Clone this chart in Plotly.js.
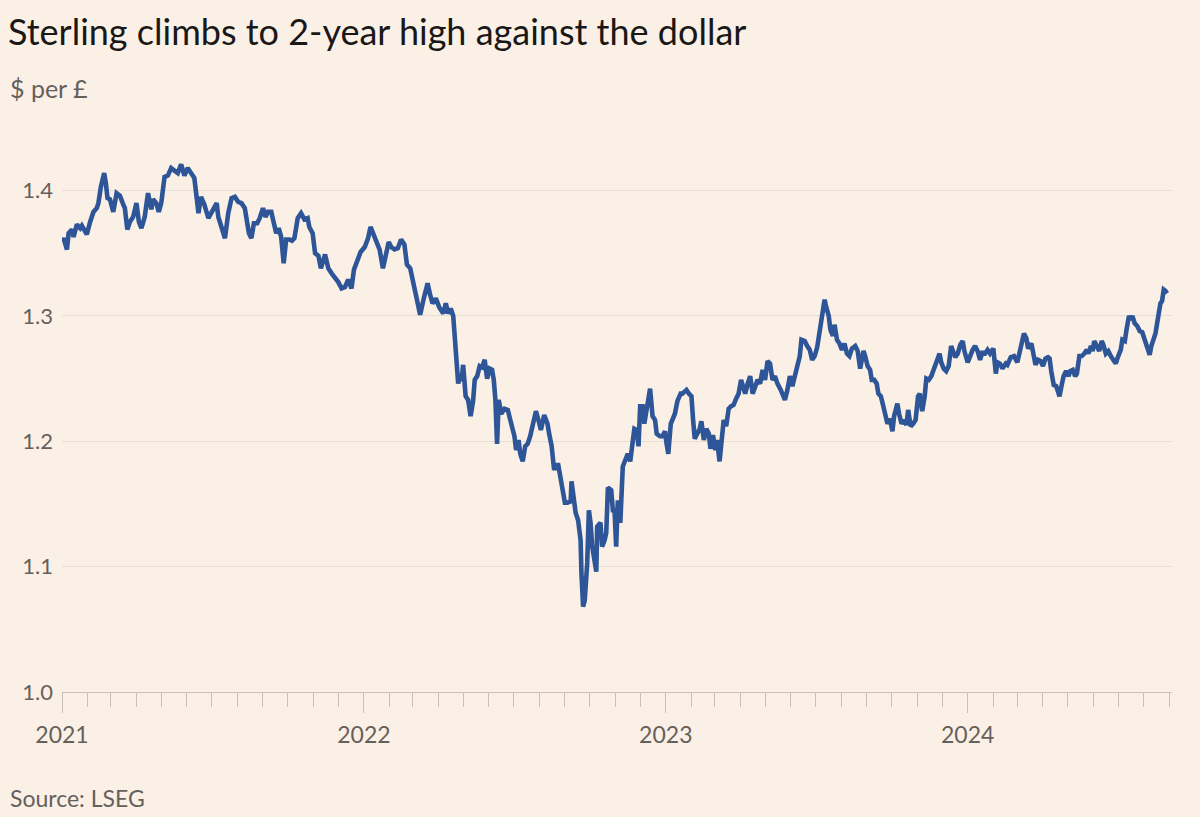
<!DOCTYPE html>
<html>
<head>
<meta charset="utf-8">
<script src="https://cdn.plot.ly/plotly-3.0.1.min.js"></script>
<style>
  html, body { margin: 0; padding: 0; background: #fbf0e6; }
  #chart { width: 1200px; height: 817px; }
</style>
</head>
<body>
<div id="chart"></div>
<script>
// ---- Data: GBP/USD ($ per £) ----
const dates2021 = ["2021-01-01","2021-01-03","2021-01-07","2021-01-09","2021-01-13","2021-01-15","2021-01-19","2021-01-23","2021-01-25","2021-01-29","2021-01-31","2021-02-04","2021-02-08","2021-02-12","2021-02-14","2021-02-17","2021-02-21","2021-02-23","2021-02-25","2021-02-28","2021-03-04","2021-03-08","2021-03-12","2021-03-16","2021-03-18","2021-03-21","2021-03-24","2021-03-28","2021-04-01","2021-04-04","2021-04-07","2021-04-11","2021-04-15","2021-04-19","2021-04-21","2021-04-25","2021-04-28","2021-05-01","2021-05-05","2021-05-09","2021-05-13","2021-05-17","2021-05-21","2021-05-25","2021-05-29","2021-06-02","2021-06-06","2021-06-10","2021-06-12","2021-06-15","2021-06-18","2021-06-22","2021-06-27","2021-07-01","2021-07-07","2021-07-09","2021-07-13","2021-07-17","2021-07-21","2021-07-25","2021-07-29","2021-08-02","2021-08-06","2021-08-10","2021-08-15","2021-08-18","2021-08-21","2021-08-25","2021-08-28","2021-09-01","2021-09-04","2021-09-07","2021-09-11","2021-09-14","2021-09-17","2021-09-20","2021-09-23","2021-09-26","2021-09-29","2021-10-03","2021-10-06","2021-10-09","2021-10-13","2021-10-17","2021-10-21","2021-10-25","2021-10-27","2021-10-31","2021-11-03","2021-11-07","2021-11-10","2021-11-15","2021-11-19","2021-11-23","2021-11-27","2021-12-01","2021-12-05","2021-12-09","2021-12-13","2021-12-17","2021-12-20","2021-12-24","2021-12-28"];
const values2021 = [1.359,1.362,1.353,1.366,1.369,1.363,1.373,1.370,1.372,1.366,1.365,1.375,1.383,1.386,1.390,1.403,1.414,1.406,1.394,1.393,1.383,1.398,1.396,1.389,1.386,1.369,1.375,1.379,1.390,1.375,1.370,1.379,1.398,1.385,1.393,1.390,1.383,1.390,1.411,1.412,1.418,1.416,1.414,1.421,1.412,1.418,1.414,1.410,1.399,1.382,1.395,1.389,1.378,1.383,1.390,1.379,1.369,1.362,1.382,1.394,1.395,1.391,1.390,1.386,1.366,1.362,1.374,1.374,1.378,1.386,1.379,1.383,1.383,1.375,1.366,1.370,1.363,1.342,1.361,1.361,1.360,1.362,1.378,1.382,1.377,1.378,1.371,1.366,1.350,1.348,1.338,1.349,1.338,1.334,1.331,1.327,1.322,1.323,1.329,1.322,1.337,1.343,1.351];

const dates2022 = ["2022-01-02","2022-01-06","2022-01-09","2022-01-12","2022-01-16","2022-01-20","2022-01-24","2022-01-28","2022-01-31","2022-02-03","2022-02-07","2022-02-11","2022-02-15","2022-02-19","2022-02-22","2022-02-26","2022-03-01","2022-03-04","2022-03-07","2022-03-10","2022-03-14","2022-03-19","2022-03-22","2022-03-25","2022-03-29","2022-04-02","2022-04-07","2022-04-10","2022-04-13","2022-04-16","2022-04-19","2022-04-21","2022-04-23","2022-04-25","2022-04-27","2022-04-29","2022-05-01","2022-05-04","2022-05-07","2022-05-10","2022-05-13","2022-05-15","2022-05-18","2022-05-21","2022-05-24","2022-05-27","2022-05-30","2022-06-02","2022-06-05","2022-06-07","2022-06-09","2022-06-11","2022-06-13","2022-06-16","2022-06-20","2022-06-24","2022-06-27","2022-06-30","2022-07-02","2022-07-04","2022-07-07","2022-07-09","2022-07-12","2022-07-15","2022-07-18","2022-07-21","2022-07-24","2022-07-28","2022-07-31","2022-08-03","2022-08-07","2022-08-11","2022-08-13","2022-08-16","2022-08-19","2022-08-21","2022-08-24","2022-08-27","2022-08-29","2022-09-01","2022-09-04","2022-09-08","2022-09-09","2022-09-12","2022-09-14","2022-09-17","2022-09-20","2022-09-21","2022-09-23","2022-09-25","2022-09-28","2022-09-30","2022-10-02","2022-10-04","2022-10-06","2022-10-09","2022-10-10","2022-10-14","2022-10-16","2022-10-19","2022-10-21","2022-10-23","2022-10-27","2022-10-29","2022-10-31","2022-11-02","2022-11-04","2022-11-07","2022-11-10","2022-11-13","2022-11-16","2022-11-19","2022-11-21","2022-11-24","2022-11-27","2022-11-29","2022-12-01","2022-12-04","2022-12-06","2022-12-09","2022-12-11","2022-12-13","2022-12-16","2022-12-19","2022-12-21","2022-12-25","2022-12-28","2022-12-31"];
const values2022 = [1.355,1.362,1.371,1.366,1.359,1.353,1.338,1.351,1.359,1.355,1.353,1.354,1.361,1.357,1.341,1.338,1.329,1.317,1.311,1.301,1.313,1.326,1.317,1.310,1.314,1.307,1.302,1.310,1.302,1.306,1.300,1.281,1.257,1.246,1.254,1.248,1.261,1.236,1.233,1.220,1.232,1.249,1.252,1.260,1.259,1.265,1.250,1.258,1.257,1.249,1.233,1.198,1.233,1.222,1.226,1.225,1.217,1.209,1.204,1.193,1.201,1.190,1.184,1.196,1.198,1.204,1.214,1.224,1.217,1.209,1.221,1.214,1.206,1.196,1.177,1.181,1.181,1.169,1.159,1.151,1.151,1.152,1.168,1.151,1.143,1.137,1.121,1.095,1.068,1.073,1.103,1.145,1.135,1.116,1.105,1.096,1.132,1.135,1.116,1.121,1.127,1.163,1.161,1.145,1.145,1.116,1.153,1.135,1.180,1.184,1.190,1.184,1.196,1.210,1.209,1.196,1.228,1.228,1.214,1.225,1.233,1.242,1.220,1.217,1.206,1.204,1.204,1.208];

const dates2023 = ["2023-01-02","2023-01-04","2023-01-07","2023-01-09","2023-01-12","2023-01-15","2023-01-19","2023-01-21","2023-01-26","2023-01-29","2023-02-01","2023-02-03","2023-02-05","2023-02-08","2023-02-11","2023-02-13","2023-02-16","2023-02-19","2023-02-22","2023-02-24","2023-02-27","2023-03-02","2023-03-04","2023-03-07","2023-03-10","2023-03-12","2023-03-15","2023-03-18","2023-03-21","2023-03-24","2023-03-27","2023-03-30","2023-04-02","2023-04-05","2023-04-07","2023-04-10","2023-04-13","2023-04-16","2023-04-19","2023-04-22","2023-04-25","2023-04-28","2023-05-01","2023-05-04","2023-05-07","2023-05-10","2023-05-13","2023-05-16","2023-05-20","2023-05-22","2023-05-25","2023-05-28","2023-05-31","2023-06-03","2023-06-06","2023-06-09","2023-06-12","2023-06-14","2023-06-18","2023-06-21","2023-06-24","2023-06-27","2023-06-30","2023-07-03","2023-07-06","2023-07-09","2023-07-12","2023-07-14","2023-07-17","2023-07-19","2023-07-22","2023-07-24","2023-07-27","2023-07-30","2023-08-02","2023-08-05","2023-08-08","2023-08-11","2023-08-14","2023-08-18","2023-08-21","2023-08-24","2023-08-28","2023-08-30","2023-09-02","2023-09-05","2023-09-07","2023-09-10","2023-09-13","2023-09-15","2023-09-18","2023-09-21","2023-09-24","2023-09-26","2023-09-29","2023-10-02","2023-10-04","2023-10-08","2023-10-10","2023-10-13","2023-10-16","2023-10-19","2023-10-21","2023-10-24","2023-10-27","2023-10-30","2023-11-02","2023-11-04","2023-11-07","2023-11-10","2023-11-12","2023-11-15","2023-11-18","2023-11-20","2023-11-23","2023-11-26","2023-11-28","2023-11-30","2023-12-03","2023-12-06","2023-12-09","2023-12-12","2023-12-14","2023-12-17","2023-12-20","2023-12-23","2023-12-26","2023-12-28"];
const values2023 = [1.198,1.190,1.214,1.217,1.222,1.232,1.238,1.238,1.241,1.238,1.236,1.217,1.202,1.206,1.210,1.216,1.201,1.210,1.206,1.194,1.205,1.193,1.201,1.184,1.204,1.217,1.212,1.226,1.228,1.229,1.234,1.238,1.249,1.241,1.238,1.246,1.252,1.238,1.244,1.249,1.246,1.257,1.249,1.264,1.262,1.249,1.252,1.246,1.241,1.238,1.233,1.241,1.252,1.244,1.252,1.257,1.268,1.281,1.280,1.276,1.273,1.265,1.268,1.275,1.289,1.300,1.313,1.307,1.300,1.289,1.284,1.293,1.281,1.278,1.273,1.278,1.270,1.268,1.274,1.276,1.272,1.258,1.272,1.268,1.260,1.257,1.249,1.249,1.246,1.238,1.236,1.228,1.220,1.214,1.218,1.208,1.220,1.230,1.222,1.214,1.217,1.213,1.225,1.212,1.214,1.217,1.236,1.238,1.224,1.236,1.250,1.249,1.252,1.256,1.260,1.268,1.270,1.263,1.258,1.256,1.260,1.276,1.272,1.267,1.270,1.277,1.280,1.272];

const dates2024 = ["2024-01-01","2024-01-04","2024-01-07","2024-01-10","2024-01-13","2024-01-16","2024-01-19","2024-01-21","2024-01-25","2024-01-28","2024-01-30","2024-02-01","2024-02-04","2024-02-06","2024-02-09","2024-02-12","2024-02-16","2024-02-18","2024-02-22","2024-02-26","2024-03-01","2024-03-04","2024-03-06","2024-03-09","2024-03-12","2024-03-14","2024-03-18","2024-03-20","2024-03-23","2024-03-26","2024-03-29","2024-04-01","2024-04-04","2024-04-07","2024-04-09","2024-04-11","2024-04-14","2024-04-17","2024-04-19","2024-04-21","2024-04-24","2024-04-26","2024-04-29","2024-05-02","2024-05-04","2024-05-07","2024-05-10","2024-05-12","2024-05-15","2024-05-18","2024-05-21","2024-05-24","2024-05-26","2024-05-29","2024-05-31","2024-06-02","2024-06-05","2024-06-08","2024-06-11","2024-06-13","2024-06-16","2024-06-19","2024-06-22","2024-06-25","2024-06-28","2024-07-01","2024-07-04","2024-07-06","2024-07-09","2024-07-11","2024-07-14","2024-07-16","2024-07-18","2024-07-21","2024-07-24","2024-07-27","2024-07-30","2024-08-02","2024-08-04","2024-08-06","2024-08-08","2024-08-10","2024-08-13","2024-08-15","2024-08-17","2024-08-19","2024-08-21","2024-08-23","2024-08-25","2024-08-27","2024-08-29"];
const values2024 = [1.263,1.269,1.273,1.276,1.272,1.265,1.272,1.269,1.273,1.270,1.272,1.274,1.254,1.263,1.262,1.258,1.262,1.261,1.267,1.268,1.263,1.272,1.280,1.286,1.282,1.274,1.278,1.270,1.261,1.265,1.264,1.260,1.266,1.267,1.266,1.256,1.245,1.244,1.241,1.236,1.246,1.252,1.256,1.252,1.256,1.257,1.252,1.254,1.268,1.268,1.270,1.273,1.270,1.276,1.272,1.280,1.276,1.272,1.280,1.277,1.270,1.272,1.268,1.264,1.262,1.268,1.273,1.281,1.280,1.289,1.300,1.297,1.300,1.294,1.292,1.288,1.287,1.281,1.276,1.272,1.269,1.276,1.281,1.286,1.294,1.302,1.310,1.312,1.321,1.320,1.318];

const yTickValues = [1.0, 1.1, 1.2, 1.3, 1.4];
const yTickLabels = ["1.0", "1.1", "1.2", "1.3", "1.4"];

const titleText = "Sterling climbs to 2-year high against the dollar";
const subtitleText = "$ per £";
const sourceText = "Source: LSEG";

// ---- Build chart ----
const xAll = [].concat(dates2021, dates2022, dates2023, dates2024);
const yAll = [].concat(values2021, values2022, values2023, values2024);

const BG = "#fbf0e6";
const GREY = "#66605c";
const FONT = "Lato, 'Noto Sans', sans-serif";

const trace = {
  x: xAll,
  y: yAll,
  type: "scatter",
  mode: "lines",
  line: { color: "#2d5597", width: 4.6, shape: "linear" },
  hoverinfo: "x+y"
};

const layout = {
  width: 1200,
  height: 817,
  paper_bgcolor: BG,
  plot_bgcolor: BG,
  margin: { l: 62, r: 28, t: 153, b: 125 },
  showlegend: false,
  font: { family: FONT, color: GREY, size: 22 },
  title: {
    text: titleText,
    x: 8 / 1200, xref: "container", xanchor: "left",
    y: 1 - 32 / 817, yref: "container", yanchor: "middle",
    font: { family: FONT, size: 36, color: "#1a1817" }
  },
  xaxis: {
    type: "date",
    range: ["2021-01-01", "2024-09-04"],
    tick0: "2021-01-01",
    dtick: "M12",
    tickformat: "%Y",
    ticks: "outside",
    ticklen: 20,
    tickwidth: 1,
    tickcolor: "#c9c0b8",
    showline: true,
    linecolor: "#c9c0b8",
    linewidth: 1,
    showgrid: false,
    zeroline: false,
    ticklabelstandoff: 2,
    tickfont: { family: FONT, size: 23, color: GREY },
    minor: { dtick: "M1", tick0: "2021-01-01", ticks: "outside", ticklen: 14, tickwidth: 1, tickcolor: "#c9c0b8", showgrid: false },
    fixedrange: true
  },
  yaxis: {
    range: [1.0, 1.43],
    tickvals: yTickValues,
    ticktext: yTickLabels,
    ticks: "",
    showline: false,
    showgrid: true,
    gridcolor: "#e8ddd3",
    gridwidth: 1,
    zeroline: false,
    ticklabelstandoff: 8,
    tickfont: { family: FONT, size: 22, color: GREY },
    fixedrange: true
  },
  annotations: [
    {
      text: subtitleText, xref: "paper", yref: "paper",
      x: (8 - 62) / 1110, y: (692 - 88) / 539,
      xanchor: "left", yanchor: "middle", showarrow: false,
      font: { family: FONT, size: 25, color: GREY }
    },
    {
      text: sourceText, xref: "paper", yref: "paper",
      x: (8 - 62) / 1110, y: (692 - 798) / 539,
      xanchor: "left", yanchor: "middle", showarrow: false,
      font: { family: FONT, size: 23, color: GREY }
    }
  ]
};

Plotly.newPlot("chart", [trace], layout, { displayModeBar: false });
</script>
</body>
</html>
